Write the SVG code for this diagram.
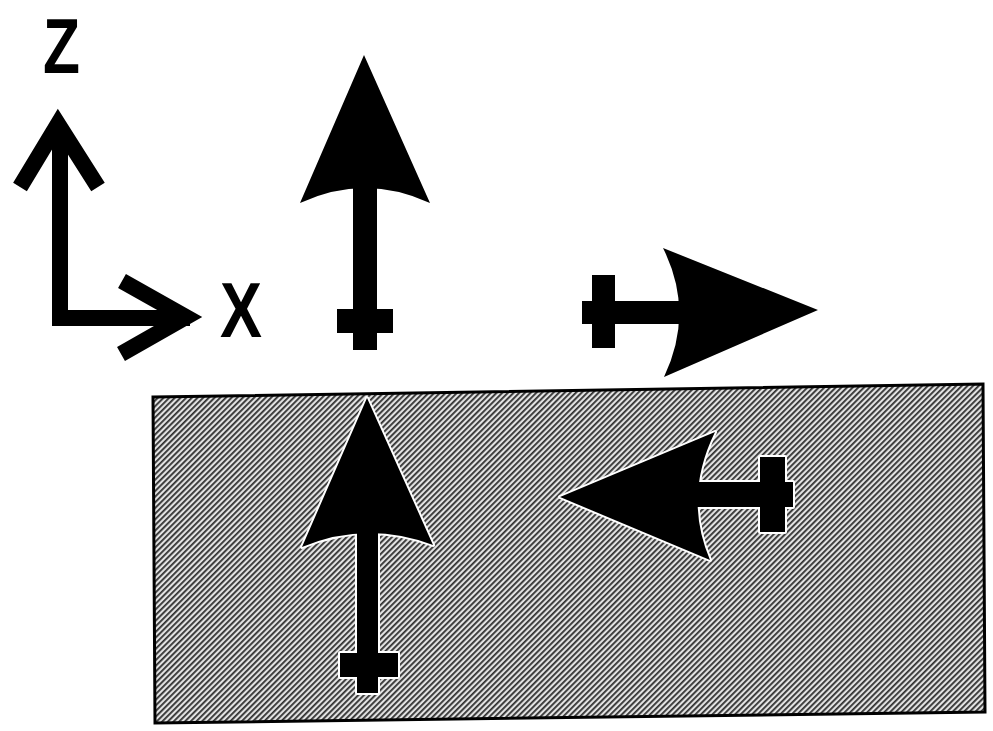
<svg xmlns="http://www.w3.org/2000/svg" width="993" height="731" viewBox="0 0 993 731">
<style>
.ink{fill:#000}
.axis{fill:none;stroke:#000;stroke-width:16;stroke-linejoin:miter;stroke-linecap:butt}
.lbl{font-family:"Liberation Sans",Arial,sans-serif;font-weight:bold;font-size:77px;fill:#000}
.halo{fill:#fff;stroke:#fff;stroke-width:4;stroke-linejoin:round}
</style>
<defs>
<pattern id="dither" width="4" height="4" patternUnits="userSpaceOnUse" patternTransform="rotate(45)">
<rect width="4" height="4" fill="#e2e2e2"/>
<rect width="1.8" height="4" fill="#303030"/>
</pattern>
<g id="shape-up-box">
<path d="M367,398 L433,545 Q367,520 302,547 Z"/>
<rect x="357" y="528" width="21" height="165"/>
<rect x="340" y="653" width="58" height="24"/>
</g>
<g id="shape-left-box">
<rect x="688" y="482" width="105" height="25"/>
<rect x="760" y="457" width="25" height="75"/>
<path d="M560,497 L715,432 Q683,497 710,560 Z"/>
</g>
</defs>
<rect width="993" height="731" fill="#fff"/>

<g id="axes">
<path class="axis" d="M60,125 L60,318 L190,318"/>
<path class="axis" d="M20,187 L58,124 L98,187"/>
<path class="axis" d="M122,281 L186,317 L121,354"/>
<text class="lbl" x="43" y="73" textLength="37" lengthAdjust="spacingAndGlyphs">Z</text>
<text class="lbl" x="220" y="337" textLength="42" lengthAdjust="spacingAndGlyphs">X</text>
</g>

<g id="arrow-up-top" class="ink">
<path d="M364,55 L430,203 Q365,173 300,203 Z"/>
<rect x="353" y="185" width="24" height="165"/>
<rect x="337" y="309" width="56" height="24"/>
</g>

<g id="arrow-right-top" class="ink">
<path d="M818,310 L663,248 Q695,312 664,377 Z"/>
<rect x="582" y="301" width="105" height="23"/>
<rect x="592" y="275" width="23" height="73"/>
</g>

<g id="surface">
<polygon points="153,397 983,384 985,712 155,723" fill="url(#dither)" stroke="#000" stroke-width="3"/>
</g>

<g id="arrow-up-box">
<use href="#shape-up-box" class="halo"/>
<use href="#shape-up-box" class="ink"/>
</g>

<g id="arrow-left-box">
<use href="#shape-left-box" class="halo"/>
<use href="#shape-left-box" class="ink"/>
</g>

<g id="connectors"></g>
</svg>
